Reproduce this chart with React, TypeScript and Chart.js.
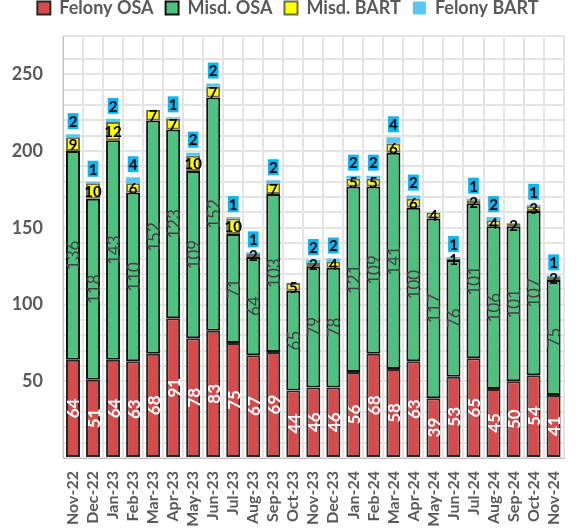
import React, { useEffect, useRef } from 'react';
import { Chart, registerables } from 'chart.js';

Chart.register(...registerables);

const categories = [
  'Nov-22', 'Dec-22', 'Jan-23', 'Feb-23', 'Mar-23', 'Apr-23', 'May-23', 'Jun-23', 'Jul-23',
  'Aug-23', 'Sep-23', 'Oct-23', 'Nov-23', 'Dec-23', 'Jan-24', 'Feb-24', 'Mar-24', 'Apr-24',
  'May-24', 'Jun-24', 'Jul-24', 'Aug-24', 'Sep-24', 'Oct-24', 'Nov-24',
];
const felonyOSA = [64, 51, 64, 63, 68, 91, 78, 83, 75, 67, 69, 44, 46, 46, 56, 68, 58, 63, 39, 53, 65, 45, 50, 54, 41];
const misdOSA = [136, 118, 143, 110, 152, 123, 109, 152, 71, 64, 103, 65, 79, 78, 121, 109, 141, 100, 117, 76, 101, 106, 101, 107, 75];
const misdBART = [9, 10, 12, 6, 7, 7, 10, 7, 10, 2, 7, 5, 2, 4, 5, 5, 6, 6, 4, 1, 2, 4, 2, 3, 2];
const felonyBART = [2, 1, 2, 4, 0, 1, 2, 2, 1, 1, 2, 0, 2, 2, 2, 2, 4, 2, 0, 1, 1, 2, 0, 1, 1];
const yTickLabels = [50, 100, 150, 200, 250];

const FONT = "Lato, 'Open Sans', sans-serif";

const segLabels = {
  id: 'segLabels',
  afterDatasetsDraw(chart: any) {
    const ctx = chart.ctx;
    chart.data.datasets.forEach((ds: any, di: number) => {
      const meta = chart.getDatasetMeta(di);
      meta.data.forEach((bar: any, i: number) => {
        const v = ds.data[i];
        if (!v) return;
        const { x, y, base } = bar.getProps(['x', 'y', 'base'], true);
        const cy = (y + base) / 2;
        ctx.save();
        ctx.textAlign = 'center';
        ctx.textBaseline = 'middle';
        if (di === 0 || di === 1) {
          ctx.translate(x, cy);
          ctx.rotate(-Math.PI / 2);
          ctx.font = di === 0 ? `bold 17px ${FONT}` : `17px ${FONT}`;
          ctx.fillStyle = di === 0 ? '#ffffff' : '#404040';
          ctx.fillText(String(v), 0, 1);
        } else if (di === 2) {
          ctx.font = `bold 15px ${FONT}`;
          ctx.fillStyle = '#000000';
          ctx.fillText(String(v), x, cy + 1);
        } else {
          const ly = y - 13;
          ctx.font = `bold 15px ${FONT}`;
          const w = ctx.measureText(String(v)).width + 2;
          ctx.fillStyle = '#0FB5F0';
          ctx.fillRect(x - w / 2, ly - 8, w, 16);
          ctx.fillStyle = '#000000';
          ctx.fillText(String(v), x, ly + 1);
        }
        ctx.restore();
      });
    });
  },
};

export default function App() {
  const ref = useRef<HTMLCanvasElement | null>(null);
  useEffect(() => {
    if (!ref.current) return;
    const chart = new Chart(ref.current, {
      type: 'bar',
      data: {
        labels: categories,
        datasets: [
          { label: 'Felony OSA', data: felonyOSA, backgroundColor: '#D64C4C', borderColor: '#262626', borderWidth: 2, borderSkipped: false },
          { label: 'Misd. OSA', data: misdOSA, backgroundColor: '#4CC27E', borderColor: '#111111', borderWidth: 2, borderSkipped: false },
          { label: 'Misd. BART', data: misdBART, backgroundColor: '#FFFF00', borderColor: '#6E6E45', borderWidth: 2, borderSkipped: false },
          { label: 'Felony BART', data: felonyBART, backgroundColor: '#58C7F5', borderColor: '#58C7F5', borderWidth: 0 },
        ],
      },
      options: {
        animation: false,
        responsive: false,
        devicePixelRatio: 1,
        layout: { padding: { top: -13, right: 10, left: 0, bottom: 0 } },
        datasets: { bar: { barPercentage: 0.7, categoryPercentage: 1 } },
        plugins: {
          legend: {
            position: 'top',
            weight: 3000,
            labels: {
              boxWidth: 13,
              boxHeight: 13,
              padding: 12,
              color: '#595959',
              font: { family: FONT, size: 18, weight: 'bold' },
            },
          },
          title: { display: true, text: ' ', font: { size: 7.5 }, padding: 0 },
          tooltip: { enabled: false },
        },
        scales: {
          x: {
            stacked: true,
            grid: { color: '#e4e4e4', lineWidth: 2, drawTicks: false },
            border: { color: '#bfbfbf', width: 1 },
            ticks: {
              autoSkip: false,
              maxRotation: 90,
              minRotation: 90,
              padding: 13,
              color: '#595959',
              font: { family: FONT, size: 16, weight: 'bold' },
            },
            afterFit: (s: any) => { s.height = 72; },
          },
          y: {
            stacked: true,
            min: 0,
            max: 275,
            grid: { color: '#e4e4e4', lineWidth: 2, drawTicks: false },
            border: { color: '#bfbfbf', width: 1 },
            ticks: {
              stepSize: 10,
              autoSkip: false,
              padding: 20,
              color: '#595959',
              font: { family: FONT, size: 18, weight: 'bold' },
              callback: (v: any) => (yTickLabels.includes(Number(v)) ? String(v) : ''),
            },
            afterFit: (s: any) => { s.width = 63; },
          },
        },
      },
      plugins: [segLabels],
    } as any);
    return () => chart.destroy();
  }, []);
  return (
    <div style={{ position: 'fixed', left: 0, top: 0, width: 586, height: 530, overflow: 'hidden', background: '#fff' }}>
      <canvas ref={ref} width={586} height={530} />
    </div>
  );
}
